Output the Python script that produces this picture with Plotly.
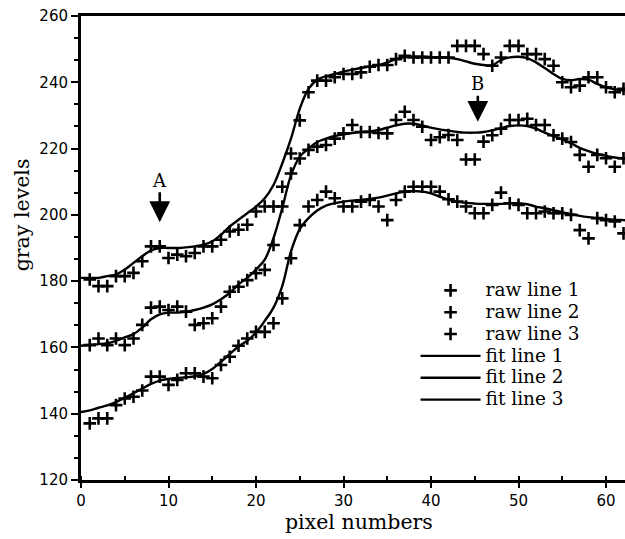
import plotly.graph_objects as go

# Raw gray-level samples along three scan lines (pixel 1..62)
pixels = list(range(1, 63))
raw_line_1 = [180.5, 178.5, 178.5, 181.5, 181.5, 182.5, 186, 190.5, 190.5, 187,
              188, 187.5, 188.5, 190.5, 190.5, 192.5, 195, 195.5, 197, 201,
              202.5, 202.5, 208.5, 218.5, 228.5, 237, 240.5, 240.5, 241.5, 242.5,
              242.5, 243, 244.7, 245.2, 245.2, 247, 248, 247.5, 247.5, 247.5,
              247.5, 247.5, 251, 251, 251, 248.5, 245, 247.5, 251, 251,
              248.5, 248.5, 247, 245, 240, 238.5, 239, 241.5, 241.5, 238.5,
              237, 238]
raw_line_2 = [160.7, 162.7, 160.7, 162.7, 160.7, 162.7, 166.8, 172, 172.3, 171.3,
              172.3, 170.8, 166.8, 167.3, 168.8, 172.3, 176.8, 178.3, 180.3, 182.4,
              183.4, 190.9, 202.5, 212.5, 217, 219.6, 220.6, 221.1, 223, 224.6,
              227.1, 225, 225, 224.7, 224.6, 228.6, 231.1, 228.6, 226.6, 222.6,
              223.4, 224.1, 222.6, 216.7, 216.7, 222.1, 224, 226, 228.6, 228.6,
              229, 227.1, 227.1, 224, 223, 222, 218.1, 214.5, 218.1, 217.1,
              214.5, 217.1]
raw_line_3 = [137.1, 138.6, 138.6, 142.6, 144.6, 145.1, 147, 151.2, 151.2, 148.7,
              150.2, 152.2, 152.2, 151.2, 150.7, 154.7, 157.2, 160.5, 162.7, 164.7,
              164.7, 167.3, 174.8, 186.9, 196.9, 202.5, 204.5, 207, 205, 202.5,
              202.5, 204, 204.5, 202.5, 198.4, 204.5, 207, 208.5, 208.5, 208.5,
              207, 204.7, 204, 202.5, 200.5, 200.5, 203, 206.7, 203.5, 203,
              200.5, 200.5, 201, 200.5, 200.5, 200, 195.4, 192.9, 199, 198.4,
              198, 194.4]

# Smooth fitted profiles (pixel 0..63)
fit_pixels = list(range(0, 64))
fit_line_1 = [181, 181, 181, 181.5, 182, 183.5, 185.5, 187.5, 189.3, 190,
              190, 190, 190.2, 190.5, 191, 192, 194, 196.5, 198.5, 200.5,
              202.5, 205, 209, 215.5, 223, 232, 238, 240.8, 241.8, 242.5,
              243.2, 243.8, 244.3, 244.8, 245.2, 246, 247, 247.6, 247.8, 247.8,
              247.6, 247.5, 247.4, 247, 246.3, 245.6, 245.2, 245.2, 246.7, 247.5,
              247.7, 247.3, 246, 244.3, 242.5, 241, 240.6, 241, 240.8, 239.5,
              238.5, 237.9, 237.6, 237.5]
fit_line_2 = [160.5, 160.8, 161, 161.3, 162, 163, 164, 166, 168.5, 170,
              170.5, 170.5, 170.8, 171.3, 172, 173, 174.5, 176.5, 179, 181,
              183.5, 186.5, 193, 202, 212, 217.5, 220, 222, 223, 223.8,
              224.3, 224.7, 225, 225.2, 225.6, 226.3, 227, 227.5, 227.5, 227,
              226.3, 225.8, 225.4, 225, 224.8, 224.8, 225, 225.5, 226.2, 226.8,
              227, 226.8, 226, 224.8, 223.8, 222.8, 221.6, 220.2, 219.2, 218.4,
              217.8, 217.3, 217, 216.8]
fit_line_3 = [140.5, 141, 141.8, 142.5, 143.5, 144.8, 146.2, 147.6, 149, 150,
              150.5, 150.8, 151, 151.3, 152, 153.5, 155.7, 158, 160.3, 162,
              164.5, 168, 172, 178.5, 189, 195.7, 199, 201.3, 202.8, 203.5,
              204, 204.3, 204.5, 204.8, 205.2, 205.8, 206.5, 207, 207.2, 207,
              206.5, 205.5, 204.6, 204, 203.6, 203.4, 203.3, 203.3, 203.3, 203.5,
              203.5, 203.2, 202.5, 202, 201.4, 200.8, 200.2, 199.7, 199.3, 199,
              198.7, 198.5, 198.4, 198.3]

x_ticks = [0, 10, 20, 30, 40, 50, 60]
y_ticks = [120, 140, 160, 180, 200, 220, 240, 260]

SERIF = "DejaVu Serif"
SANS = "DejaVu Sans"
INK = "#000000"


def legend_label(text):
    return f"<span style='font-size:18.5px'>{text}</span>"


fig = go.Figure()

for name, ys in [("raw line 1", raw_line_1), ("raw line 2", raw_line_2), ("raw line 3", raw_line_3)]:
    fig.add_trace(go.Scatter(
        x=pixels, y=ys, mode="markers", name=legend_label(name),
        marker=dict(symbol="cross-thin", size=9, color=INK, line=dict(width=2.6, color=INK)),
    ))

for name, ys in [("fit line 1", fit_line_1), ("fit line 2", fit_line_2), ("fit line 3", fit_line_3)]:
    fig.add_trace(go.Scatter(
        x=fit_pixels, y=ys, mode="lines", name=legend_label(name),
        line=dict(color=INK, width=2.4, shape="spline", smoothing=1.0),
    ))

arrow_style = dict(showarrow=True, arrowhead=2, arrowsize=1.6, arrowwidth=2.6,
                   arrowcolor=INK, ax=0, standoff=0,
                   font=dict(family=SERIF, size=18, color=INK))

fig.add_annotation(x=9, y=197.8, text="A", ay=-42, **arrow_style)
fig.add_annotation(x=45.35, y=228.1, text="B", ay=-38, **arrow_style)

# Axis titles
fig.add_annotation(x=-0.108, y=0.571, xref="paper", yref="paper", text="gray levels",
                   textangle=-90, showarrow=False, xanchor="center", yanchor="middle",
                   font=dict(family=SERIF, size=20.5, color=INK))
fig.add_annotation(x=0.511, y=-0.09, xref="paper", yref="paper", text="pixel numbers",
                   showarrow=False, xanchor="center", yanchor="middle",
                   font=dict(family=SERIF, size=20.5, color=INK))

fig.update_layout(
    width=625, height=539,
    margin=dict(l=81, r=0, t=16, b=59),
    plot_bgcolor="white", paper_bgcolor="white",
    showlegend=True,
    legend=dict(x=0.615, y=0.443, xanchor="left", yanchor="top",
                bgcolor="rgba(0,0,0,0)", borderwidth=0,
                font=dict(family=SERIF, size=14.5, color=INK),
                itemwidth=60, tracegroupgap=0),
    xaxis=dict(range=[0, 62.17], showline=True, linewidth=2.5, linecolor=INK, mirror=True,
               ticks="outside", ticklen=5, tickwidth=2, tickcolor=INK,
               tickvals=x_ticks, ticktext=[str(v) for v in x_ticks],
               showgrid=False, zeroline=False,
               tickfont=dict(family=SANS, size=15, color=INK),
               minor=dict(ticks="inside", ticklen=4, tickwidth=1.5, tickcolor=INK,
                          tick0=0, dtick=5, showgrid=False)),
    yaxis=dict(range=[120, 260], showline=True, linewidth=3, linecolor=INK,
               ticks="outside", ticklen=7, tickwidth=2, tickcolor=INK,
               tickvals=y_ticks, ticktext=[str(v) for v in y_ticks],
               showgrid=False, zeroline=False,
               tickfont=dict(family=SANS, size=15, color=INK),
               minor=dict(ticks="outside", ticklen=4, tickwidth=1.5, tickcolor=INK,
                          tick0=120, dtick=20 / 3, showgrid=False)),
)

fig.write_html("out.html")
